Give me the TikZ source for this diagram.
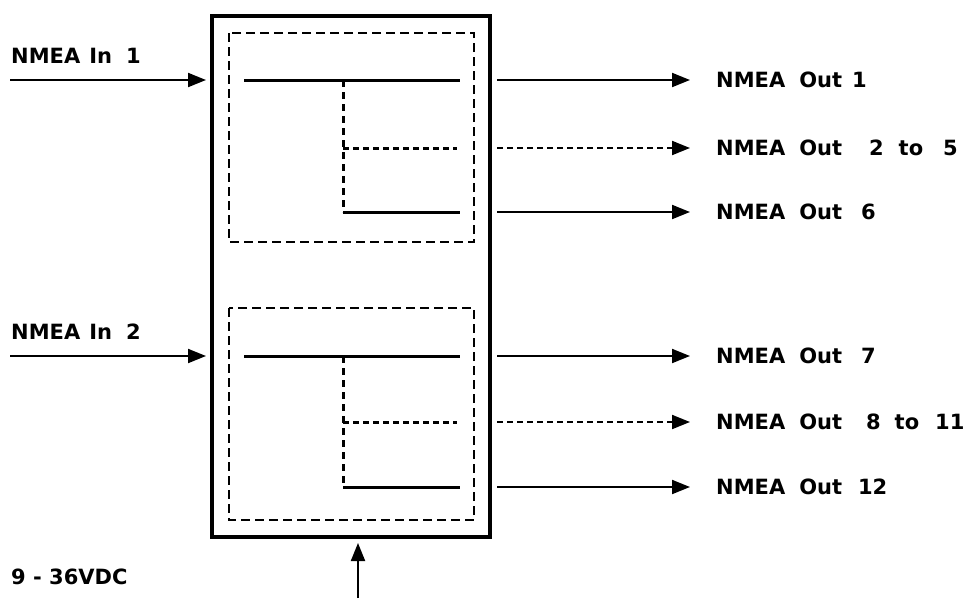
\documentclass[tikz,border=0pt]{standalone}
\usepackage{fontspec}
\setmainfont{DejaVu Sans}
\usetikzlibrary{arrows.meta}
\begin{document}
\begin{tikzpicture}[x=1pt,y=-1pt,
  wire/.style={line width=3pt},
  dwire/.style={line width=3pt,dash pattern=on 7pt off 5pt},
  dbox/.style={line width=2.6pt,dash pattern=on 9pt off 5pt},
  arr/.style={line width=2pt,-{Triangle[length=18pt,width=14pt]}},
  darr/.style={line width=2pt,dash pattern=on 6pt off 4pt,-{Triangle[length=18pt,width=14pt]}},
  lbl/.style={anchor=west,font=\bfseries\fontsize{21}{25}\selectfont,inner sep=0pt}]
\useasboundingbox (0,0) rectangle (970,598);
% outer box
\draw[line width=3.2pt] (212,16) rectangle (490,537);
% dashed boxes
\draw[dbox] (229,33) rectangle (474,242);
\draw[dbox] (229,308) rectangle (474,520);
% internal wiring
\foreach \y/\n in {80/a,356/b}{
  \coordinate (s\n1) at (244,\y);
  \coordinate (e\n1) at (460,\y);
  \coordinate (v\n) at (343,\y);
}
\coordinate (va2) at (343,148); \coordinate (ea2) at (457,148);
\coordinate (va3) at (343,212); \coordinate (ea3) at (460,212);
\coordinate (vb2) at (343,422); \coordinate (eb2) at (457,422);
\coordinate (vb3) at (343,487); \coordinate (eb3) at (460,487);
\draw[wire] (sa1) -- (ea1);
\draw[wire] (sb1) -- (eb1);
\draw[dwire] (va) -- (va3);
\draw[dwire] (vb) -- (vb3);
\draw[dwire,dash pattern=on 6pt off 4pt] (va2) -- (ea2);
\draw[dwire,dash pattern=on 6pt off 4pt] (vb2) -- (eb2);
\draw[wire] (va3) -- (ea3);
\draw[wire] (vb3) -- (eb3);
% inputs
\coordinate (ina0) at (10,80); \coordinate (ina1) at (206,80);
\coordinate (inb0) at (10,356); \coordinate (inb1) at (206,356);
\draw[arr] (ina0) -- (ina1);
\draw[arr] (inb0) -- (inb1);
\node[lbl,anchor=base west] (lin1) at (11,63) {NMEA\hspace{9pt}In\hspace{14pt}1};
\node[lbl,anchor=base west] (lin2) at (11,339) {NMEA\hspace{9pt}In\hspace{14pt}2};
% outputs
\foreach \y/\n/\s/\t in {
  80/o1/arr/{NMEA\hspace{14pt}Out\hspace{10pt}1},
  148/o2/darr/{NMEA\hspace{14pt}Out\hspace{27pt}2\hspace{15pt}to\hspace{20pt}5},
  212/o3/arr/{NMEA\hspace{14pt}Out\hspace{19pt}6},
  356/o4/arr/{NMEA\hspace{14pt}Out\hspace{19pt}7},
  422/o5/darr/{NMEA\hspace{14pt}Out\hspace{24pt}8\hspace{14pt}to\hspace{16pt}11},
  487/o6/arr/{NMEA\hspace{14pt}Out\hspace{16pt}12}}{
  \coordinate (\n a) at (497,\y);
  \coordinate (\n b) at (690,\y);
  \draw[\s] (\n a) -- (\n b);
  \node[lbl] (\n l) at (716,\y) {\t};
}
% power
\node[lbl,anchor=base west] (pwr) at (11,584) {9 - 36VDC};
\coordinate (p0) at (358,598);
\coordinate (p1) at (358,543);
\draw[arr] (p0) -- (p1);
\end{tikzpicture}
\end{document}
